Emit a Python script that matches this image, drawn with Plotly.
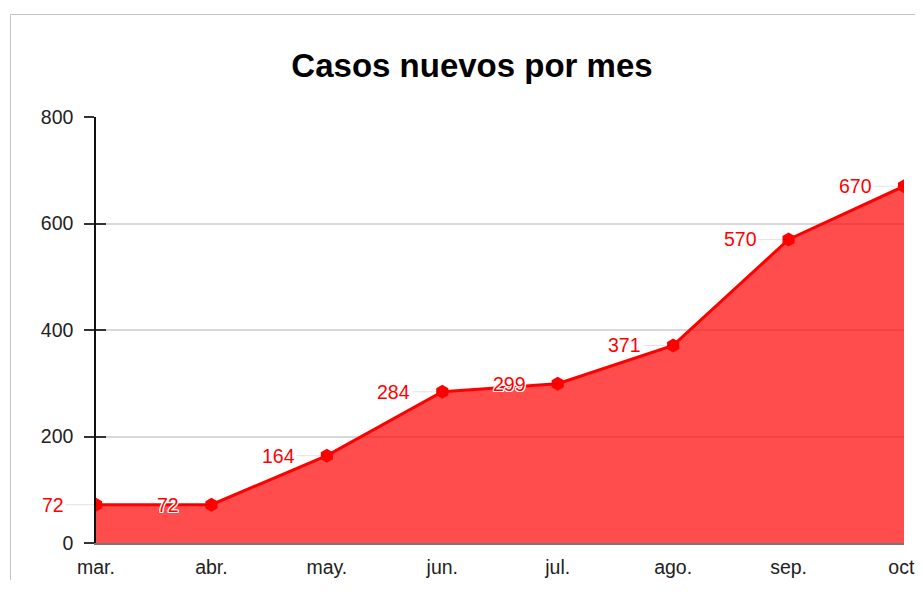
import plotly.graph_objects as go

months = ["mar.", "abr.", "may.", "jun.", "jul.", "ago.", "sep.", "oct."]
cases = [72, 72, 164, 284, 299, 371, 570, 670]
y_ticks = [0, 200, 400, 600, 800]
title_text = "Casos nuevos por mes"

# page is rendered with an 8px body margin, so layout coords are page coords - 8
W, H = 915, 572
L, R, T = 88, 19, 109
B = H - 535
pw, ph = W - L - R, H - T - B

FONT = "Liberation Sans, Arial, Helvetica, sans-serif"

fig = go.Figure()
fig.add_trace(go.Scatter(
    x=months, y=cases, mode="lines+markers",
    fill="tozeroy", fillcolor="rgba(255,0,0,0.7)",
    line=dict(color="#ff0000", width=3),
    marker=dict(symbol="hexagon", size=14, color="#ff0000"),
    hoverinfo="x+y", showlegend=False, cliponaxis=True,
))
# invisible trace to carry the inner tick axis
fig.add_trace(go.Scatter(x=months, y=cases, yaxis="y2", mode="lines",
                         line=dict(width=0), hoverinfo="skip", showlegend=False,
                         opacity=0))

halo = ("1px 1px 0px white, -1px -1px 0px white, 1px -1px 0px white, "
        "-1px 1px 0px white, 0px 1px 0px white, 0px -1px 0px white, "
        "1px 0px 0px white, -1px 0px 0px white")
for m, v in zip(months, cases):
    fig.add_annotation(
        x=m, y=v, xref="x", yref="y", text=str(v),
        showarrow=True, arrowhead=0, arrowwidth=1, arrowcolor="rgba(0,0,0,0.1)",
        ax=-30, ay=0, standoff=0, startstandoff=0, xanchor="right",
        font=dict(family=FONT, size=19.5, color="#ff0000", shadow=halo),
    )

fig.add_shape(type="rect", xref="paper", yref="paper",
              x0=(2.5 - L) / pw, x1=(W + 40 - L) / pw,
              y0=-(H + 40 - T - ph) / ph, y1=1 + (T - 6.5) / ph,
              line=dict(color="#c4c4c4", width=1), fillcolor="rgba(0,0,0,0)", layer="below")

fig.update_layout(
    width=W, height=H,
    margin=dict(l=L, r=R, t=T, b=B, autoexpand=False),
    paper_bgcolor="white", plot_bgcolor="white",
    title=dict(text=f"<b>{title_text}</b>", x=464 / W, xref="container", xanchor="center",
               y=1 - 57 / H, yref="container", yanchor="middle",
               font=dict(family=FONT, size=33, color="black")),
    font=dict(family=FONT, size=19.5, color="#222"),
    xaxis=dict(type="category", range=[0, 7], showgrid=False, showline=True,
               linecolor="#777", linewidth=1.5, ticks="", ticklabelstandoff=6,
               automargin=False, ticklabeloverflow="allow",
               tickfont=dict(size=19.5, color="#222"), zeroline=False, fixedrange=True),
    yaxis=dict(range=[0, 800], tickvals=y_ticks, showgrid=True, gridcolor="#d9d9d9",
               gridwidth=1.5, showline=True, linecolor="#111", linewidth=1.5,
               ticks="outside", ticklen=10, tickcolor="#333", tickwidth=1.5,
               automargin=False,
               ticklabelstandoff=7, zeroline=False, tickfont=dict(size=19.5, color="#222")),
    yaxis2=dict(range=[0, 800], tickvals=y_ticks, overlaying="y", side="left",
                showgrid=False, showline=False, ticks="inside", ticklen=10,
                automargin=False,
                tickcolor="#333", tickwidth=1.5, showticklabels=False, zeroline=False),
)

fig.write_html("out.html")
